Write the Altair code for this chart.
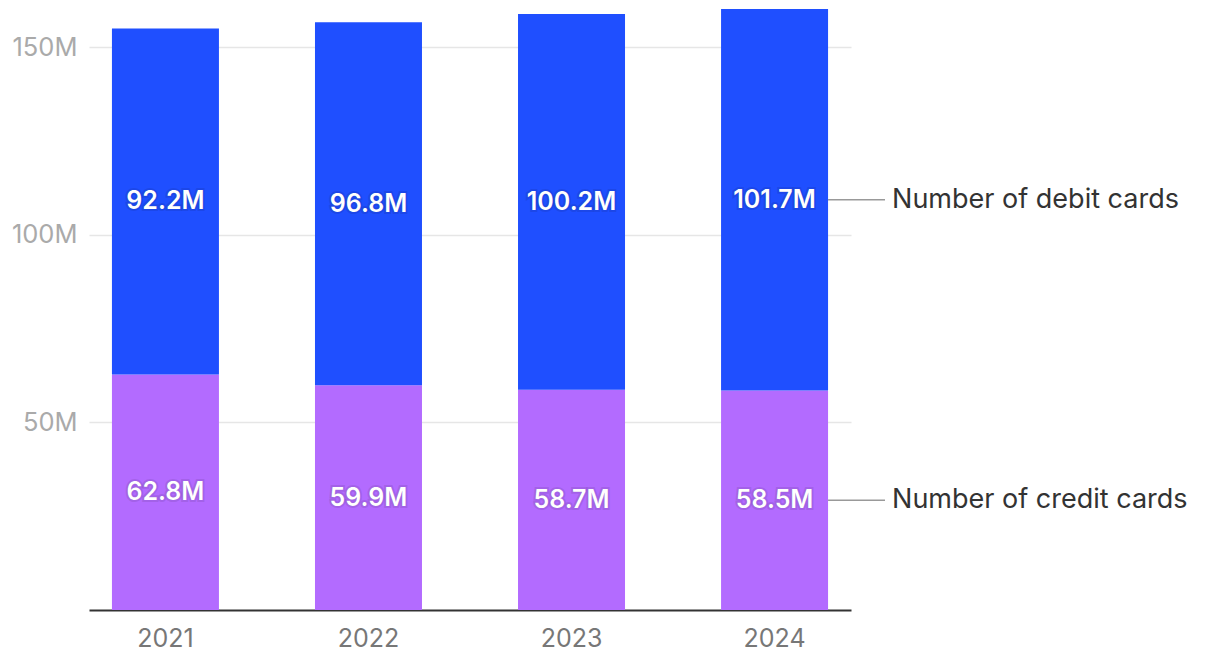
import altair as alt
import pandas as pd

years = ["2021", "2022", "2023", "2024"]
credit = [62.8, 59.9, 58.7, 58.5]
debit = [92.2, 96.8, 100.2, 101.7]
series_names = ["Number of credit cards", "Number of debit cards"]
colors = ["#B36BFF", "#1F4FFF"]

rows = []
for i, y in enumerate(years):
    rows.append({"year": y, "series": series_names[0], "order": 0,
                 "start": 0.0, "end": credit[i], "value": credit[i]})
    rows.append({"year": y, "series": series_names[1], "order": 1,
                 "start": credit[i], "end": credit[i] + debit[i], "value": debit[i]})
df = pd.DataFrame(rows)
df["mid"] = (df["start"] + df["end"]) / 2
df["label"] = df["value"].map(lambda v: f"{v:.1f}M")

FONT = "Inter"

xscale = alt.Scale(domain=years, paddingInner=0.473, paddingOuter=0.113)
yscale = alt.Scale(domain=[0, 160.2], nice=False, zero=True)

base = alt.Chart(df)

bars = base.mark_bar().encode(
    x=alt.X("year:N", scale=xscale, sort=years,
            axis=alt.Axis(title=None, labelAngle=0, ticks=False, domain=True,
                          domainColor="#333333", domainWidth=2,
                          labelColor="#777777", labelFontSize=25, labelFont=FONT,
                          labelPadding=16)),
    y=alt.Y("start:Q", scale=yscale,
            axis=alt.Axis(title=None, values=[50, 100, 150], ticks=False, domain=False,
                          labelExpr="datum.value + 'M'", labelColor="#aaaaaa",
                          labelFontSize=25.5, labelFont=FONT, labelPadding=12,
                          grid=True, gridColor="#e6e6e6", gridWidth=1.5)),
    y2="end:Q",
    color=alt.Color("series:N", scale=alt.Scale(domain=series_names, range=colors), legend=None),
)

shadow = base.mark_text(font=FONT, fontSize=25, fontWeight=600, color="#000000",
                        stroke="#000000", strokeWidth=4, strokeOpacity=0.25, opacity=0.35,
                        baseline="middle").encode(
    x=alt.X("year:N", scale=xscale, sort=years),
    y=alt.Y("mid:Q", scale=yscale),
    text="label:N",
)

labels = base.mark_text(font=FONT, fontSize=25, fontWeight=600, color="white",
                        baseline="middle").encode(
    x=alt.X("year:N", scale=xscale, sort=years),
    y=alt.Y("mid:Q", scale=yscale),
    text="label:N",
)

last = alt.Chart(df[df["year"] == years[-1]])

connectors = last.mark_rule(color="#999999", strokeWidth=1.5).encode(
    x=alt.X("year:N", scale=xscale, sort=years, bandPosition=1),
    x2=alt.value(796),
    y=alt.Y("mid:Q", scale=yscale),
)

names = last.mark_text(font=FONT, fontSize=27, color="#333333", align="left",
                       baseline="middle", dx=64).encode(
    x=alt.X("year:N", scale=xscale, sort=years, bandPosition=1),
    y=alt.Y("mid:Q", scale=yscale),
    text="series:N",
)

chart = alt.layer(bars, connectors, shadow, labels, names).properties(
    width=762, height=601, padding={"left": 3, "top": 1, "right": 5, "bottom": 5}
).configure_view(stroke=None)

chart.save("out.html", embed_options={"renderer": "svg", "actions": False})
